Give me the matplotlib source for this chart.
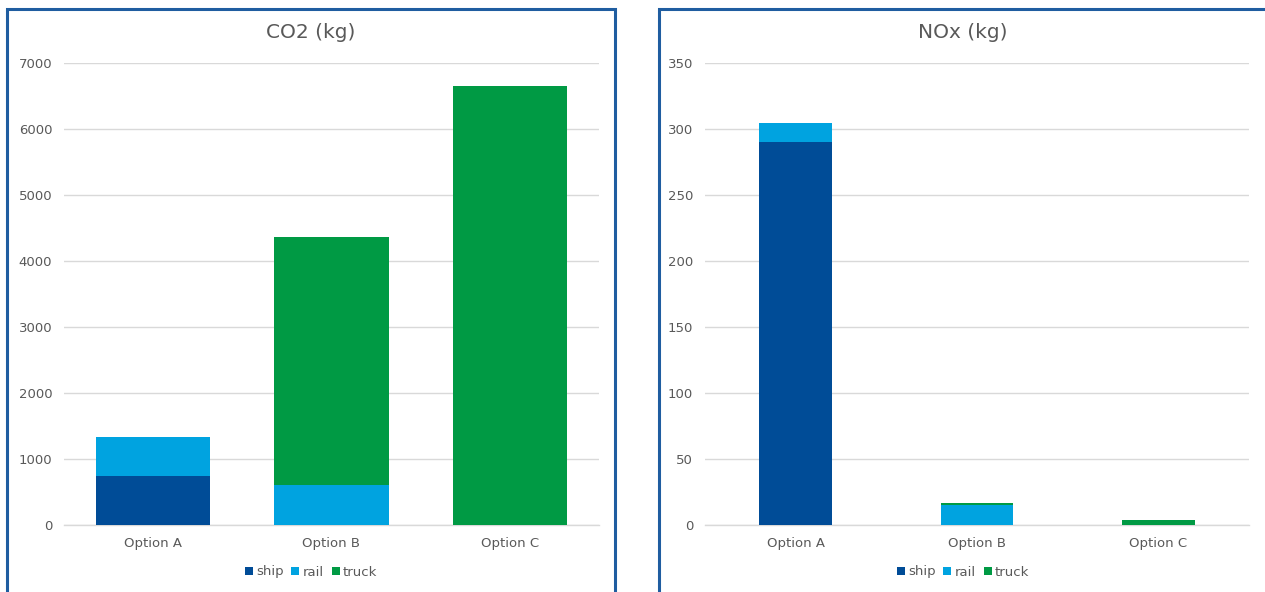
import matplotlib
matplotlib.use("Agg")
import matplotlib.pyplot as plt
from matplotlib.patches import Rectangle, Patch
import numpy as np

categories = ["Option A", "Option B", "Option C"]
modes = ["ship", "rail", "truck"]

co2_ship = [745, 0, 0]
co2_rail = [590, 600, 0]
co2_truck = [0, 3770, 6655]

nox_ship = [290, 0, 0]
nox_rail = [14.5, 14.8, 0]
nox_truck = [0, 1.9, 3.5]

colors = {"ship": "#004C97", "rail": "#00A3E0", "truck": "#009A44"}
text_color = "#595959"
frame_color = "#1F5DA0"

W, H = 1265, 592
fig = plt.figure(figsize=(W / 100, H / 100), dpi=100)
plt.rcParams['font.family'] = ['DejaVu Sans']

def fx(px):
    return px / W

def fy(py):
    return 1 - py / H

# frames
for x0, x1 in [(7, 615), (659, 1275)]:
    fig.patches.append(Rectangle((fx(x0), fy(620)), fx(x1) - fx(x0), fy(9) - fy(620),
                                 transform=fig.transFigure, fill=False,
                                 edgecolor=frame_color, linewidth=2.2, zorder=0))

def draw(ax_rect, data, ymax, step, title, bar_width, legend_x):
    ax = fig.add_axes(ax_rect)
    x = np.arange(len(categories))
    bottom = np.zeros(len(categories))
    for m, vals in zip(modes, data):
        vals = np.array(vals, dtype=float)
        ax.bar(x, vals, bottom=bottom, width=bar_width, color=colors[m], zorder=3, label=m)
        bottom += vals
    ax.set_xlim(-0.5, len(categories) - 0.5)
    ax.set_ylim(0, ymax)
    ax.set_yticks(np.arange(0, ymax + step / 2, step))
    ax.set_yticklabels([str(int(v)) for v in np.arange(0, ymax + step / 2, step)])
    ax.yaxis.grid(True, color="#D9D9D9", linewidth=1, zorder=0)
    ax.set_axisbelow(True)
    for s in ["top", "right", "left"]:
        ax.spines[s].set_visible(False)
    ax.spines["bottom"].set_color("#D9D9D9")
    ax.spines["bottom"].set_linewidth(1)
    ax.set_xticks(x)
    ax.set_xticklabels(categories)
    ax.tick_params(axis="both", length=0, colors=text_color, labelsize=9.5)
    ax.tick_params(axis="y", pad=8.5)
    ax.tick_params(axis="x", pad=9)
    fig.text(legend_x, fy(33), title, ha="center", va="center", fontsize=14.5, color=text_color)
    handles = [Patch(facecolor=colors[m], edgecolor="none") for m in modes]
    fig.legend(handles, modes, loc="center", bbox_to_anchor=(legend_x, fy(572)), ncol=3,
               frameon=False, fontsize=9.5, labelcolor=text_color,
               handlelength=0.6, handleheight=0.6, handletextpad=0.25, columnspacing=0.6)
    return ax

ax1 = draw([fx(64), fy(525), fx(599) - fx(64), fy(63) - fy(525)],
           [co2_ship, co2_rail, co2_truck], 7000, 1000, "CO2 (kg)", 0.64, fx(311))
ax2 = draw([fx(705), fy(525), fx(1249) - fx(705), fy(63) - fy(525)],
           [nox_ship, nox_rail, nox_truck], 350, 50, "NOx (kg)", 0.4, fx(963))

fig.savefig("out.png", dpi=100, facecolor="white")
